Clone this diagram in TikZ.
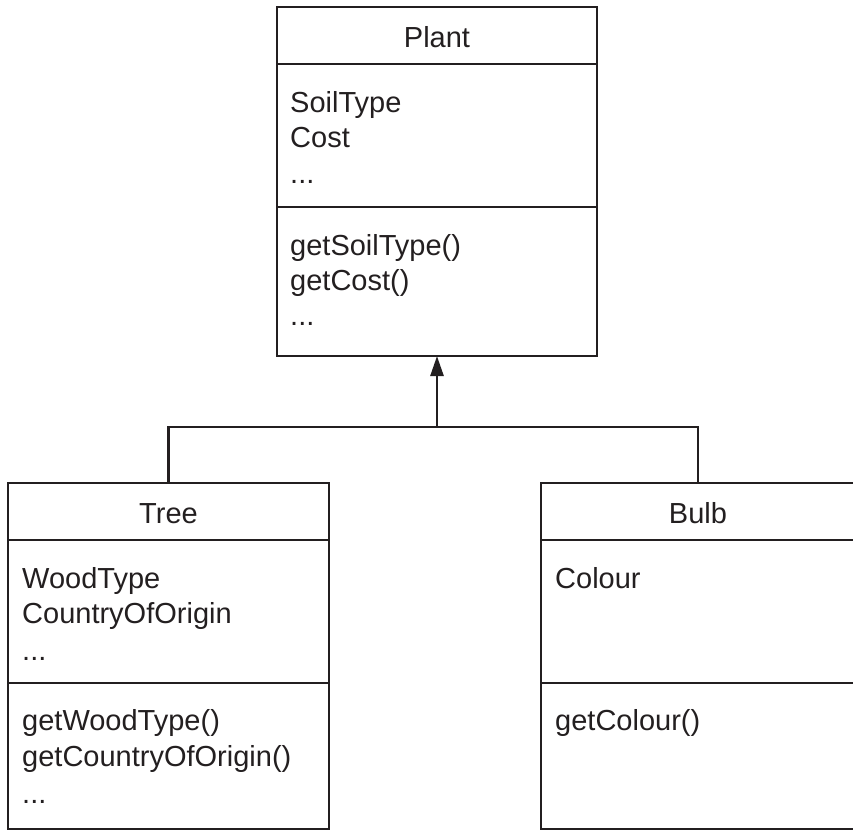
\documentclass[tikz,border=0pt]{standalone}
\usepackage{fontspec}
\setmainfont{Liberation Sans}
\usetikzlibrary{arrows.meta}
\definecolor{ink}{RGB}{35,31,32}
\begin{document}
\begin{tikzpicture}[x=1pt,y=-1pt,
  box/.style={draw=ink,line width=2.6pt,inner sep=0pt,outer sep=0pt},
  sep/.style={draw=ink,line width=1.6pt},
  conn/.style={draw=ink,line width=2.6pt},
  txt/.style={text=ink,font=\fontsize{29}{35}\selectfont,inner sep=0pt,anchor=base west},
  ttl/.style={text=ink,font=\fontsize{29}{35}\selectfont,inner sep=0pt,anchor=base}]
\useasboundingbox (0,0) rectangle (853,831);
% boxes
\node[box,minimum width=320pt,minimum height=349pt] (plant) at (437,181.5) {};
\node[box,minimum width=321pt,minimum height=346pt] (tree) at (168.5,656) {};
\node[box,minimum width=314pt,minimum height=346pt] (bulb) at (698,656) {};
% dividers
\draw[sep] (plant.west |- 0,64) -- (plant.east |- 0,64);
\draw[sep] (plant.west |- 0,207) -- (plant.east |- 0,207);
\draw[sep] (tree.west |- 0,540) -- (tree.east |- 0,540);
\draw[sep] (tree.west |- 0,683) -- (tree.east |- 0,683);
\draw[sep] (bulb.west |- 0,540) -- (bulb.east |- 0,540);
\draw[sep] (bulb.west |- 0,683) -- (bulb.east |- 0,683);
% Plant texts
\node[ttl] (plantname) at (437,47) {Plant};
\node[txt] (pa1) at (290,112) {SoilType};
\node[txt] (pa2) at (290,147) {Cost};
\node[txt] (pa3) at (290,183) {...};
\node[txt] (pm1) at (290,255) {getSoilType()};
\node[txt] (pm2) at (290,290) {getCost()};
\node[txt] (pm3) at (290,325) {...};
% Tree texts
\node[ttl] (treename) at (168.5,523) {Tree};
\node[txt] (ta1) at (22,588) {WoodType};
\node[txt] (ta2) at (22,623) {CountryOfOrigin};
\node[txt] (ta3) at (22,660) {...};
\node[txt] (tm1) at (22,730) {getWoodType()};
\node[txt] (tm2) at (22,766) {getCountryOfOrigin()};
\node[txt] (tm3) at (22,803) {...};
% Bulb texts
\node[ttl] (bulbname) at (698,523) {Bulb};
\node[txt] (ba1) at (555,588) {Colour};
\node[txt] (bm1) at (555,730) {getColour()};
% connectors
\coordinate (j) at (plant.south |- 0,427);
\draw[conn] (tree.north) |- (j) -| (bulb.north);
\draw[conn,-{Triangle[length=20pt,width=13pt]}] (j) -- (plant.south);
\end{tikzpicture}
\end{document}
